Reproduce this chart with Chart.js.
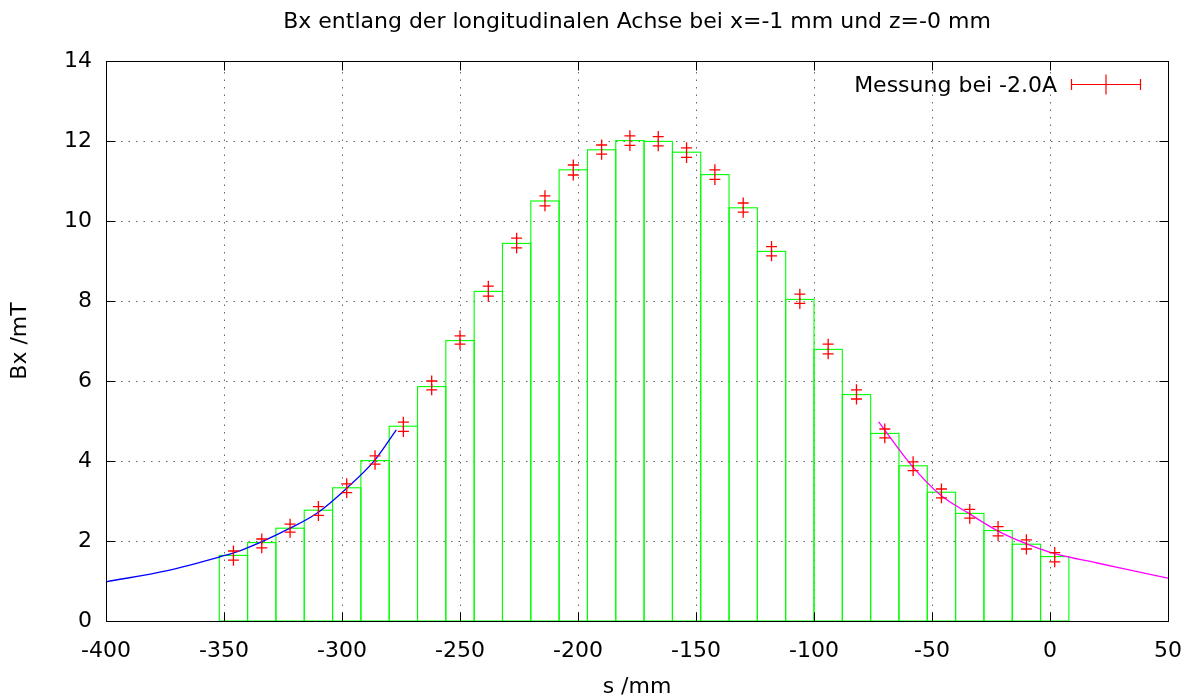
<!DOCTYPE html>
<html>
<head>
<meta charset="utf-8">
<script src="https://cdn.jsdelivr.net/npm/chart.js@4.4.1/dist/chart.umd.min.js"></script>
<style>
  body { margin: 0; background: #fff; }
  #wrap { width: 1192px; height: 700px; }
</style>
</head>
<body>
<div id="wrap"><canvas id="chart" width="1192" height="700"></canvas></div>
<script>
// --- Daten ---
// Messpositionen s /mm (Mitte jedes Intervalls)
const positions = [-346, -334, -322, -310, -298, -286, -274, -262, -250, -238,
                   -226, -214, -202, -190, -178, -166, -154, -142, -130, -118,
                   -106, -94, -82, -70, -58, -46, -34, -22, -10, 2];
// Höhe der grünen Kästen (Bx /mT)
const binHeights = [1.64, 1.96, 2.32, 2.77, 3.33, 4.01, 4.87, 5.86, 7.01, 8.24,
                    9.44, 10.50, 11.28, 11.78, 12.01, 11.99, 11.72, 11.16, 10.33, 9.24,
                    8.04, 6.79, 5.66, 4.69, 3.88, 3.22, 2.69, 2.26, 1.92, 1.61];
// Messwerte (zwei Kreuze je Position)
const bxUpper = [1.75, 2.05, 2.42, 2.86, 3.43, 4.13, 4.97, 6.00, 7.13, 8.37,
                 9.57, 10.63, 11.40, 11.90, 12.13, 12.11, 11.83, 11.28, 10.45, 9.36,
                 8.17, 6.92, 5.78, 4.80, 3.98, 3.30, 2.79, 2.36, 2.03, 1.71];
const bxLower = [1.52, 1.83, 2.22, 2.64, 3.21, 3.92, 4.74, 5.78, 6.92, 8.12,
                 9.33, 10.38, 11.15, 11.67, 11.89, 11.88, 11.59, 11.04, 10.22, 9.13,
                 7.94, 6.68, 5.55, 4.58, 3.76, 3.08, 2.57, 2.13, 1.80, 1.48];
// Fitkurve links (blau)
const fitLeftS = [-400, -374, -352, -343, -322, -310, -298, -286, -277];
const fitLeftB = [0.98, 1.26, 1.60, 1.76, 2.32, 2.72, 3.32, 4.03, 4.78];
// Fitkurve rechts (magenta)
const fitRightS = [-72.6, -58.5, -46.4, -34.4, -22.4, -10.4, 1.6, 20, 35, 50];
const fitRightB = [4.98, 3.88, 3.15, 2.69, 2.26, 1.94, 1.69, 1.45, 1.26, 1.07];
// Achsenteilung
const xTicks = [-400, -350, -300, -250, -200, -150, -100, -50, 0, 50];
const yTicks = [0, 2, 4, 6, 8, 10, 12, 14];

const FONT = "'DejaVu Sans', sans-serif";
Chart.defaults.font.family = FONT;
Chart.defaults.font.size = 22;
Chart.defaults.color = '#000';

const toXY = (xs, ys) => xs.map((x, i) => ({ x: x, y: ys[i] }));

// gnuplot-artiger Rahmen, Gitter, Ticks nach innen, Legende
const gnuplotLook = {
    id: 'gnuplotLook',
    beforeDatasetsDraw(chart) {
        const { ctx, chartArea: a, scales: { x, y } } = chart;
        ctx.save();
        ctx.strokeStyle = 'rgba(0,0,0,0.6)';
        ctx.lineWidth = 1;
        ctx.setLineDash([1.5, 6]);
        xTicks.slice(1, -1).forEach(v => {
            const px = Math.round(x.getPixelForValue(v)) + 0.5;
            ctx.beginPath(); ctx.moveTo(px, a.bottom); ctx.lineTo(px, a.top); ctx.stroke();
        });
        yTicks.slice(1, -1).forEach(v => {
            const py = Math.round(y.getPixelForValue(v)) + 0.5;
            ctx.beginPath(); ctx.moveTo(a.left, py); ctx.lineTo(a.right, py); ctx.stroke();
        });
        ctx.restore();
    },
    afterDatasetDraw(chart, args) {
        // Umrisse der Kästen
        if (args.index !== 0) return;
        const { ctx } = chart;
        ctx.save();
        ctx.strokeStyle = '#00ff00';
        ctx.lineWidth = 1.1;
        args.meta.data.forEach(bar => {
            const l = bar.x - bar.width / 2;
            ctx.strokeRect(l, bar.y, bar.width, bar.base - bar.y);
        });
        ctx.restore();
    },
    afterDatasetsDraw(chart) {
        const { ctx, chartArea: a, scales: { x, y } } = chart;
        const L = Math.round(a.left) + 0.5, R = Math.round(a.right) + 0.5;
        const T = Math.round(a.top) + 0.5, B = Math.round(a.bottom) + 0.5;
        const tick = 9;
        ctx.save();
        ctx.strokeStyle = '#000';
        ctx.lineWidth = 1;
        ctx.setLineDash([]);
        ctx.strokeRect(L, T, R - L, B - T);
        ctx.beginPath();
        xTicks.forEach(v => {
            const px = Math.round(x.getPixelForValue(v)) + 0.5;
            ctx.moveTo(px, B); ctx.lineTo(px, B - tick);
            ctx.moveTo(px, T); ctx.lineTo(px, T + tick);
        });
        yTicks.forEach(v => {
            const py = Math.round(y.getPixelForValue(v)) + 0.5;
            ctx.moveTo(L, py); ctx.lineTo(L + tick, py);
            ctx.moveTo(R, py); ctx.lineTo(R - tick, py);
        });
        ctx.stroke();

        // Legende
        const textRight = a.right - 111;
        const ly = a.top + 23.5;
        ctx.fillStyle = '#000';
        ctx.font = '22px ' + FONT;
        ctx.textAlign = 'right';
        ctx.textBaseline = 'alphabetic';
        ctx.fillText('Messung bei -2.0A', textRight, a.top + 31);
        const x0 = textRight + 14.5, x1 = a.right - 27.5, xm = (x0 + x1) / 2;
        ctx.strokeStyle = '#ff0000';
        ctx.lineWidth = 1.2;
        ctx.beginPath();
        ctx.moveTo(x0, ly); ctx.lineTo(x1, ly);
        ctx.moveTo(x0, ly - 5.5); ctx.lineTo(x0, ly + 5.5);
        ctx.moveTo(x1, ly - 5.5); ctx.lineTo(x1, ly + 5.5);
        ctx.moveTo(xm, ly - 10); ctx.lineTo(xm, ly + 10);
        ctx.stroke();
        ctx.restore();
    }
};

const crossStyle = {
    type: 'line',
    showLine: false,
    pointStyle: 'cross',
    pointRadius: 5.5,
    pointHoverRadius: 5.5,
    borderColor: '#ff0000',
    backgroundColor: '#ff0000',
    pointBorderWidth: 1.3,
    order: 1
};

new Chart(document.getElementById('chart'), {
    type: 'bar',
    data: {
        datasets: [
            {
                label: 'Kästen',
                data: toXY(positions, binHeights),
                backgroundColor: 'rgba(0,0,0,0)',
                borderWidth: 0,
                barPercentage: 1,
                categoryPercentage: 1,
                grouped: false,
                order: 3
            },
            {
                type: 'line',
                label: 'Fit links',
                data: toXY(fitLeftS, fitLeftB),
                borderColor: '#0000ff',
                borderWidth: 1.3,
                pointRadius: 0,
                cubicInterpolationMode: 'monotone',
                fill: false,
                order: 2
            },
            {
                type: 'line',
                label: 'Fit rechts',
                data: toXY(fitRightS, fitRightB),
                borderColor: '#ff00ff',
                borderWidth: 1.3,
                pointRadius: 0,
                cubicInterpolationMode: 'monotone',
                fill: false,
                order: 2
            },
            Object.assign({ label: 'Messung bei -2.0A', data: toXY(positions, bxUpper) }, crossStyle),
            Object.assign({ label: 'Messung bei -2.0A (2)', data: toXY(positions, bxLower) }, crossStyle)
        ]
    },
    options: {
        responsive: false,
        animation: false,
        events: [],
        layout: { padding: { left: 0, right: 24, top: 0, bottom: 0 } },
        plugins: {
            legend: { display: false },
            tooltip: { enabled: false },
            title: {
                display: true,
                text: 'Bx entlang der longitudinalen Achse bei x=-1 mm und z=-0 mm',
                fullSize: false,
                color: '#000',
                font: { size: 22, weight: 'normal' },
                padding: { top: 9, bottom: 25.6 }
            }
        },
        scales: {
            x: {
                type: 'linear',
                min: -400,
                max: 50,
                offset: false,
                grid: { display: false, offset: false },
                border: { display: false },
                afterBuildTicks: s => { s.ticks = xTicks.map(v => ({ value: v })); },
                afterFit: s => { s.height = 79; },
                ticks: { padding: 9, maxRotation: 0, autoSkip: false, color: '#000' },
                title: { display: true, text: 's /mm', color: '#000', padding: { top: 0, bottom: 0 } }
            },
            y: {
                type: 'linear',
                min: 0,
                max: 14,
                grid: { display: false },
                border: { display: false },
                afterBuildTicks: s => { s.ticks = yTicks.map(v => ({ value: v })); },
                afterFit: s => { s.width = 106; },
                ticks: { padding: 6, color: '#000' },
                title: { display: true, text: 'Bx /mT', color: '#000', padding: { top: 7, bottom: 0 } }
            }
        }
    },
    plugins: [gnuplotLook]
});
</script>
</body>
</html>
